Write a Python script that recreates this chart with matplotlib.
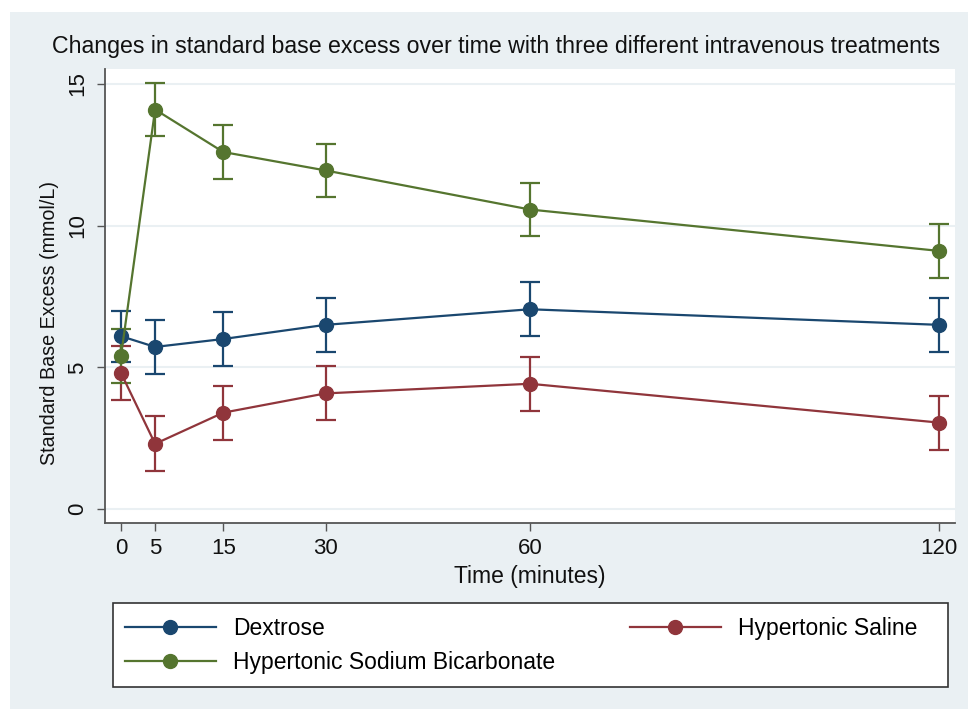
import matplotlib
matplotlib.use('Agg')
import matplotlib.pyplot as plt
from matplotlib.patches import Rectangle

plt.rcParams['font.family'] = ['Liberation Sans', 'DejaVu Sans']

# ---- data ----
time_min = [0, 5, 15, 30, 60, 120]
x_ticks = [0, 5, 15, 30, 60, 120]
y_ticks = [0, 5, 10, 15]

dextrose_mean = [6.1, 5.72, 6.0, 6.5, 7.05, 6.5]
dextrose_err = [0.9, 0.94, 0.97, 0.95, 0.95, 0.95]

saline_mean = [4.8, 2.3, 3.4, 4.08, 4.42, 3.05]
saline_err = [0.95, 0.97, 0.95, 0.95, 0.95, 0.95]

bicarb_mean = [5.4, 14.1, 12.6, 11.95, 10.57, 9.11]
bicarb_err = [0.95, 0.95, 0.95, 0.95, 0.95, 0.95]

labels = ["Dextrose", "Hypertonic Saline", "Hypertonic Sodium Bicarbonate"]
colors = ["#1a476f", "#90353b", "#55752f"]

title = "Changes in standard base excess over time with three different intravenous treatments"
xlabel = "Time (minutes)"
ylabel = "Standard Base Excess (mmol/L)"

# ---- figure ----
W, H = 968, 709
fig = plt.figure(figsize=(W / 100, H / 100), dpi=100, facecolor='white')
fig.patches.append(Rectangle((10 / W, 0), 1 - 10 / W, 1 - 12 / H, transform=fig.transFigure,
                             facecolor='#eaf0f3', edgecolor='none', zorder=-10))

ax = fig.add_axes([105 / W, 1 - 523 / H, (955 - 105) / W, (523 - 69) / H])
ax.set_facecolor('white')
ax.set_xlim(-2.35, 122.35)
ax.set_ylim(-0.494, 15.53)

for s in ['top', 'right']:
    ax.spines[s].set_visible(False)
for s in ['left', 'bottom']:
    ax.spines[s].set_color('#555555')
    ax.spines[s].set_linewidth(1.3)

ax.set_xticks(x_ticks)
ax.set_yticks(y_ticks)
ax.yaxis.grid(True, color='#eaf0f3', linewidth=1.5)
ax.set_axisbelow(True)
ax.tick_params(axis='both', direction='out', length=6, width=1, color='#555555',
               labelsize=16, labelcolor='#111111')
ax.tick_params(axis='x', pad=5)
ax.tick_params(axis='y', pad=6)
plt.setp(ax.get_yticklabels(), rotation=90, va='center', ha='right')

series = [(dextrose_mean, dextrose_err), (saline_mean, saline_err), (bicarb_mean, bicarb_err)]
handles = []
for (m, e), lab, c in zip(series, labels, colors):
    ax.errorbar(time_min, m, yerr=e, fmt='none', ecolor=c, elinewidth=1.6,
                capsize=7, capthick=1.6, zorder=3)
    h, = ax.plot(time_min, m, '-o', color=c, lw=1.6, ms=10, mec=c, label=lab, zorder=4)
    handles.append(h)

fig.text(496 / W, 1 - 46 / H, title, ha='center', va='center', fontsize=16.7, color='#111111')
fig.text(530 / W, 1 - 577 / H, xlabel, ha='center', va='center', fontsize=16.5, color='#111111')
fig.text(50 / W, 1 - 323 / H, ylabel, ha='center', va='center', rotation=90, fontsize=14.2,
         color='#111111')

# legend box
fig.patches.append(Rectangle((113 / W, 1 - 687 / H), (948 - 113) / W, (687 - 603) / H,
                             transform=fig.transFigure, facecolor='white',
                             edgecolor='#333333', lw=1.2, zorder=1))
order = [0, 2, 1]
fig.legend([handles[i] for i in order], [labels[i] for i in order], ncol=2,
           loc='upper left', bbox_to_anchor=(125 / W, 1 - 617 / H), frameon=False,
           borderpad=0, borderaxespad=0, handlelength=3.97, handletextpad=0.74,
           columnspacing=3.27, labelspacing=0.5, fontsize=16.5)

fig.savefig('out.png', dpi=100)
